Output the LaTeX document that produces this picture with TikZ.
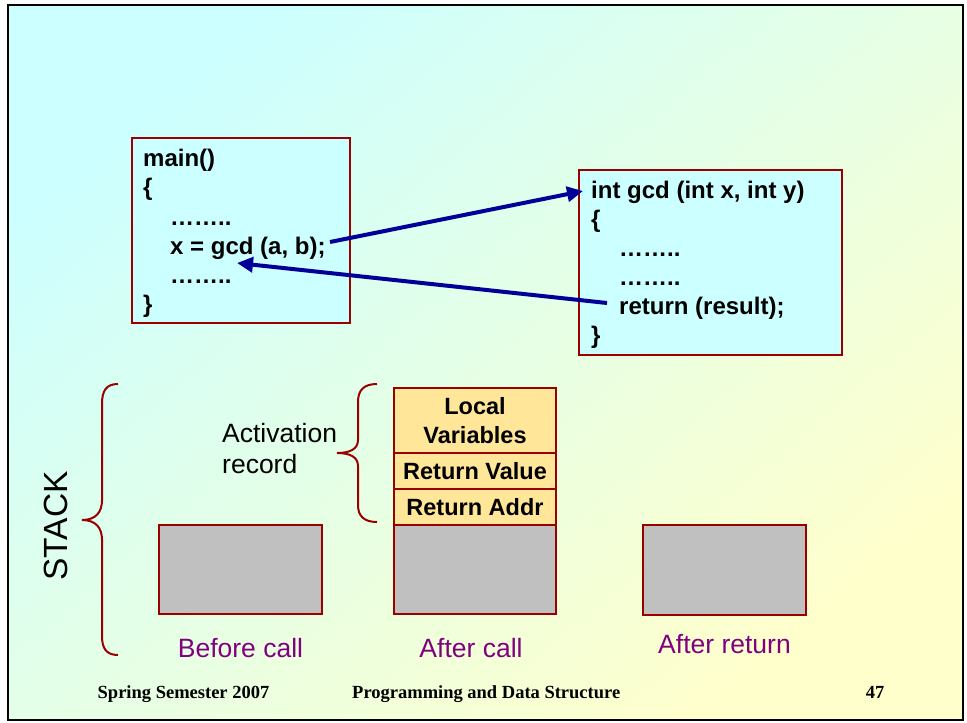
\documentclass[tikz,border=0pt]{standalone}
\usepackage{fontspec}
\setmainfont{Liberation Sans}
\newfontfamily\tms{Liberation Serif}
\usetikzlibrary{arrows.meta}
\definecolor{bgcyan}{RGB}{204,255,255}
\definecolor{bgyellow}{RGB}{255,255,204}
\definecolor{boxred}{RGB}{153,0,0}
\definecolor{codefill}{RGB}{204,255,255}
\definecolor{recfill}{RGB}{255,230,153}
\definecolor{stackgray}{RGB}{192,192,192}
\definecolor{navy}{RGB}{0,0,153}
\definecolor{lblpurple}{RGB}{128,0,128}
\tikzset{
  codebox/.style={draw=boxred, line width=2.2pt, fill=codefill, rectangle, inner sep=0pt},
  codeline/.style={anchor=base west, inner sep=0pt, font=\fontsize{24}{29}\selectfont\bfseries},
  recbox/.style={draw=boxred, line width=2.4pt, fill=recfill, rectangle, inner sep=0pt, align=center, font=\fontsize{23.5}{29}\selectfont\bfseries},
  graybox/.style={draw=boxred, line width=2.4pt, fill=stackgray, rectangle, inner sep=0pt},
  flow/.style={draw=navy, line width=4pt, -{Triangle[length=16pt,width=15pt]}},
  brc/.style={draw=boxred, line width=2pt},
  caption/.style={anchor=base, inner sep=0pt, text=lblpurple, font=\fontsize{26.5}{30}\selectfont},
  foot/.style={inner sep=0pt, font=\fontsize{18.5}{22}\selectfont\tms\bfseries}
}
\begin{document}
\begin{tikzpicture}[x=1pt, y=-1pt]
\useasboundingbox (0,0) rectangle (967,723);
\fill[white] (0,0) rectangle (967,723);
\shade[top color=bgcyan, bottom color=bgyellow, shading angle=40] (8,5) rectangle (963,720);
\draw[black, line width=2.5pt] (8,5) rectangle (963,720);

% main() box
\node[codebox, minimum width=218pt, minimum height=185pt] (mainbox) at (241,230.5) {};
\node[codeline] (m1) at (143,166) {main()};
\node[codeline] (m2) at (143,195) {\{};
\node[codeline] (m3) at (170,225) {……..};
\node[codeline] (m4) at (170,254) {x = gcd (a, b);};
\node[codeline] (m5) at (170,283) {……..};
\node[codeline] (m6) at (143,312) {\}};

% gcd box
\node[codebox, minimum width=263pt, minimum height=185pt] (gcdbox) at (710.5,262.5) {};
\node[codeline] (g1) at (591,198) {int gcd (int x, int y)};
\node[codeline] (g2) at (591,227) {\{};
\node[codeline] (g3) at (619,256) {……..};
\node[codeline] (g4) at (619,285) {……..};
\node[codeline] (g5) at (619,314) {return (result);};
\node[codeline] (g6) at (591,343) {\}};

% arrows
\coordinate (callout) at (330,242);
\coordinate (callin) at (583,191);
\coordinate (retout) at (607,303);
\coordinate (retin) at (237,263);
\draw[flow] (callout) -- (callin);
\draw[flow] (retout) -- (retin);

% STACK
\node[rotate=90, inner sep=0pt, font=\fontsize{33.5}{36}\selectfont] (stack) at (56,526) {STACK};
\draw[brc] (118,384) .. controls (106,384) and (102,391) .. (102,404) -- (102,500) .. controls (102,512) and (96,520) .. (82,520) .. controls (96,520) and (102,528) .. (102,540) -- (102,636) .. controls (102,648) and (106,655) .. (118,655);

% activation record brace and label
\node[anchor=base west, inner sep=0pt, font=\fontsize{26.5}{31}\selectfont] (act1) at (222,442) {Activation};
\node[anchor=base west, inner sep=0pt, font=\fontsize{26.5}{31}\selectfont] (act2) at (222,473) {record};
\draw[brc] (377,384) .. controls (364,384) and (358,390) .. (358,402) -- (358,440) .. controls (358,449) and (350,453) .. (337,453) .. controls (350,453) and (358,457) .. (358,466) -- (358,505) .. controls (358,516) and (364,522) .. (377,522);

% stacks
\node[graybox, minimum width=163pt, minimum height=89pt] (before) at (240.5,569.5) {};
\node[recbox, minimum width=162pt, minimum height=65pt] (locvar) at (475,420.5) {Local\\Variables};
\node[recbox, minimum width=162pt, minimum height=36pt] (retval) at (475,471) {Return Value};
\node[recbox, minimum width=162pt, minimum height=36pt] (retaddr) at (475,507) {Return Addr};
\node[graybox, minimum width=162pt, minimum height=89pt] (aftercall) at (475,569.5) {};
\node[graybox, minimum width=163pt, minimum height=90pt] (afterret) at (724.5,570) {};

\node[caption] (capb) at (240.5,657) {Before call};
\node[caption] (capa) at (471,657) {After call};
\node[caption] (capr) at (724.5,653) {After return};

% footer
\node[foot, anchor=base west] (f1) at (97.5,698) {Spring Semester 2007};
\node[foot, anchor=base west] (f2) at (352,698) {Programming and Data Structure};
\node[foot, anchor=base] (f3) at (875,698) {47};
\end{tikzpicture}
\end{document}
